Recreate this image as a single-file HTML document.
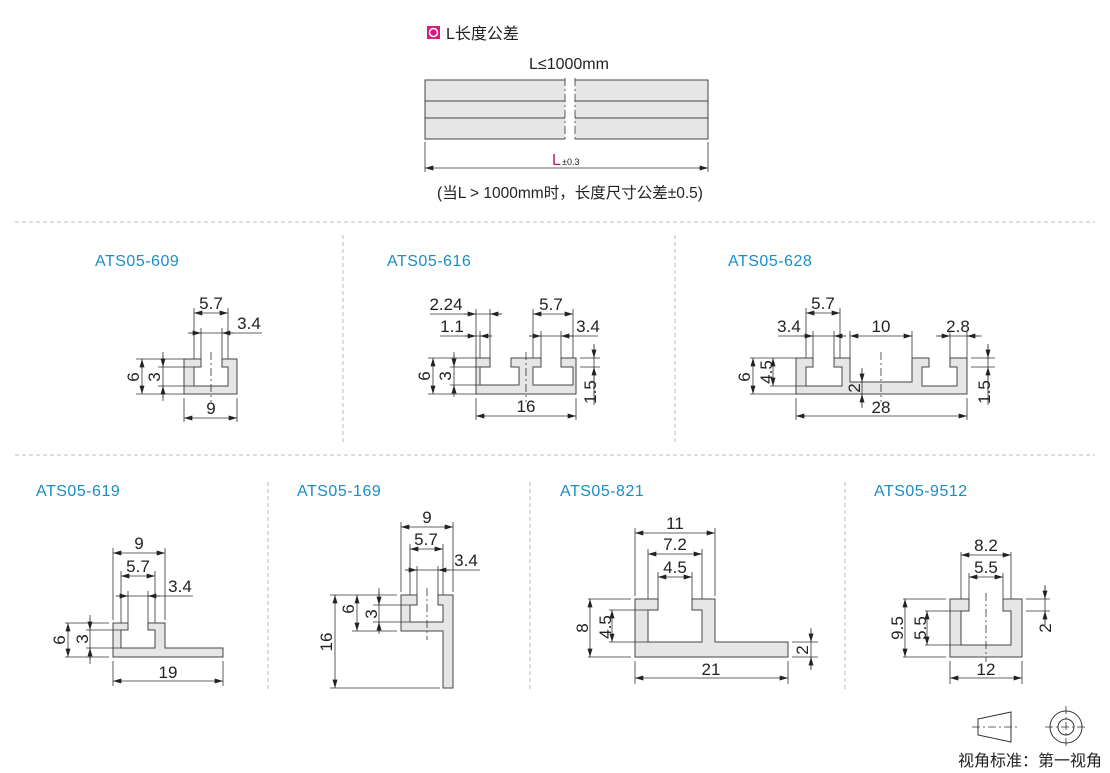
<!DOCTYPE html>
<html><head><meta charset="utf-8"><style>
html,body{margin:0;padding:0;background:#fff}
svg{display:block}
text{font-family:"Liberation Sans","Noto Sans CJK SC",sans-serif;fill:#222}
.t{font-size:16px;fill:#1a8cc6;letter-spacing:0.5px}
.d{font-size:17px}
.p{fill:#e6e6e6;stroke:#444;stroke-width:1}
.e{stroke:#333;stroke-width:0.8;fill:none}
.c{stroke:#333;stroke-width:0.8;stroke-dasharray:8,3,2,3;fill:none}
.s{stroke:#bbb;stroke-width:1;stroke-dasharray:4,3;fill:none}
</style></head><body>
<svg width="1110" height="773" viewBox="0 0 1110 773" xmlns="http://www.w3.org/2000/svg">
<defs><marker id="a" viewBox="0 0 10 6" refX="10" refY="3" markerWidth="9" markerHeight="5" orient="auto-start-reverse" markerUnits="userSpaceOnUse"><path d="M0,0 L10,3 L0,6z" fill="#222"/></marker></defs>

<!-- top section -->
<rect x="427" y="26" width="13" height="13" fill="#d81b7f"/>
<circle cx="433.5" cy="32.5" r="4" fill="none" stroke="#fff" stroke-width="1.5"/>
<text x="446" y="39" style="font-size:16px">L长度公差</text>
<text x="569" y="69" text-anchor="middle" style="font-size:16px">L≤1000mm</text>
<rect x="425" y="80" width="283" height="59" fill="#e6e6e6" stroke="#444"/>
<line x1="425" y1="101" x2="708" y2="101" stroke="#444"/>
<line x1="425" y1="118" x2="708" y2="118" stroke="#444"/>
<rect x="565" y="78" width="10" height="63" fill="#fff"/>
<line x1="565" y1="78" x2="565" y2="141" class="c"/>
<line x1="575" y1="78" x2="575" y2="141" class="c"/>
<line x1="425" y1="142" x2="425" y2="172" class="e"/>
<line x1="708" y1="142" x2="708" y2="172" class="e"/>
<line x1="425" y1="168" x2="708" y2="168" class="e" marker-start="url(#a)" marker-end="url(#a)"/>
<text x="552" y="165" style="font-size:16px;fill:#b0207a">L</text><text x="562" y="165" style="font-size:9px">±0.3</text>
<text x="570" y="198" text-anchor="middle" style="font-size:15.5px">(当L &gt; 1000mm时，长度尺寸公差±0.5)</text>

<!-- separators -->
<line x1="15" y1="222" x2="1095" y2="222" class="s"/>
<line x1="15" y1="455" x2="1095" y2="455" class="s"/>
<line x1="343" y1="235" x2="343" y2="445" class="s"/>
<line x1="675" y1="235" x2="675" y2="445" class="s"/>
<line x1="268" y1="482" x2="268" y2="690" class="s"/>
<line x1="530" y1="482" x2="530" y2="690" class="s"/>
<line x1="845" y1="482" x2="845" y2="690" class="s"/>

<!-- titles -->
<text x="95" y="266" class="t">ATS05-609</text>
<text x="387" y="266" class="t">ATS05-616</text>
<text x="728" y="266" class="t">ATS05-628</text>
<text x="36" y="496" class="t">ATS05-619</text>
<text x="297" y="496" class="t">ATS05-169</text>
<text x="560" y="496" class="t">ATS05-821</text>
<text x="874" y="496" class="t">ATS05-9512</text>

<!-- 609 -->
<path class="p" d="M184,359 H201 V367 H194 V386 H228 V367 H222 V359 H237 V394 H184 Z"/>
<line x1="211" y1="352" x2="211" y2="402" class="c"/>
<path class="e" d="M194,308V359 M228,308V359 M201,328V359 M222,328V359 M184,398V422 M237,398V422 M136,359H184 M136,394H184 M158,367H194 M158,386H194"/>
<line x1="194" y1="313" x2="228" y2="313" class="e" marker-start="url(#a)" marker-end="url(#a)"/>
<text x="211" y="309" text-anchor="middle" class="d">5.7</text>
<line x1="188" y1="333" x2="262" y2="333" class="e"/>
<line x1="189" y1="333" x2="201" y2="333" class="e" marker-end="url(#a)"/>
<line x1="234" y1="333" x2="222" y2="333" class="e" marker-end="url(#a)"/>
<text x="249" y="329" text-anchor="middle" class="d">3.4</text>
<line x1="184" y1="418" x2="237" y2="418" class="e" marker-start="url(#a)" marker-end="url(#a)"/>
<text x="211" y="414" text-anchor="middle" class="d">9</text>
<line x1="142" y1="359" x2="142" y2="394" class="e" marker-start="url(#a)" marker-end="url(#a)"/>
<text transform="translate(139,377) rotate(-90)" text-anchor="middle" class="d">6</text>
<line x1="163" y1="352" x2="163" y2="401" class="e"/>
<line x1="163" y1="355" x2="163" y2="367" class="e" marker-end="url(#a)"/>
<line x1="163" y1="398" x2="163" y2="386" class="e" marker-end="url(#a)"/>
<text transform="translate(160,377) rotate(-90)" text-anchor="middle" class="d">3</text>

<!-- 616 -->
<path class="p" d="M476,358 H490 V367 H480 V385 H519 V367 H511 V358 H541 V367 H533 V385 H573 V367 H561 V358 H576 V394 H476 Z"/>
<line x1="526" y1="352" x2="526" y2="402" class="c"/>
<path class="e" d="M476,309V358 M490,309V358 M480,331V358 M533,309V358 M573,309V358 M541,331V358 M561,331V358 M476,398V420 M576,398V420 M428,358H476 M428,394H476 M450,367H480 M450,385H480 M580,358H600 M580,367H600"/>
<line x1="430" y1="314" x2="502" y2="314" class="e"/>
<line x1="464" y1="314" x2="476" y2="314" class="e" marker-end="url(#a)"/>
<line x1="502" y1="314" x2="490" y2="314" class="e" marker-end="url(#a)"/>
<text x="446" y="310" text-anchor="middle" class="d">2.24</text>
<line x1="440" y1="336" x2="492" y2="336" class="e"/>
<line x1="464" y1="336" x2="476" y2="336" class="e" marker-end="url(#a)"/>
<line x1="492" y1="336" x2="480" y2="336" class="e" marker-end="url(#a)"/>
<text x="452" y="332" text-anchor="middle" class="d">1.1</text>
<line x1="533" y1="314" x2="573" y2="314" class="e" marker-start="url(#a)" marker-end="url(#a)"/>
<text x="551" y="310" text-anchor="middle" class="d">5.7</text>
<line x1="529" y1="336" x2="598" y2="336" class="e"/>
<line x1="529" y1="336" x2="541" y2="336" class="e" marker-end="url(#a)"/>
<line x1="573" y1="336" x2="561" y2="336" class="e" marker-end="url(#a)"/>
<text x="588" y="332" text-anchor="middle" class="d">3.4</text>
<line x1="476" y1="416" x2="576" y2="416" class="e" marker-start="url(#a)" marker-end="url(#a)"/>
<text x="526" y="412" text-anchor="middle" class="d">16</text>
<line x1="433" y1="358" x2="433" y2="394" class="e" marker-start="url(#a)" marker-end="url(#a)"/>
<text transform="translate(430,376) rotate(-90)" text-anchor="middle" class="d">6</text>
<line x1="454" y1="352" x2="454" y2="394" class="e"/>
<line x1="454" y1="355" x2="454" y2="367" class="e" marker-end="url(#a)"/>
<line x1="454" y1="397" x2="454" y2="385" class="e" marker-end="url(#a)"/>
<text transform="translate(451,376) rotate(-90)" text-anchor="middle" class="d">3</text>
<line x1="594" y1="344" x2="594" y2="405" class="e"/>
<line x1="594" y1="345" x2="594" y2="358" class="e" marker-end="url(#a)"/>
<line x1="594" y1="380" x2="594" y2="367" class="e" marker-end="url(#a)"/>
<text transform="translate(596,392) rotate(-90)" text-anchor="middle" class="d">1.5</text>

<!-- 628 -->
<path class="p" d="M796,358 H813 V367 H806 V386 H842 V367 H834 V358 H850 V382 H912 V358 H929 V367 H922 V386 H957 V367 H950 V358 H967 V394 H796 Z"/>
<line x1="881" y1="352" x2="881" y2="402" class="c"/>
<path class="e" d="M806,308V358 M840,308V358 M813,331V358 M834,331V358 M850,331V358 M912,331V358 M950,331V358 M967,331V358 M796,398V420 M967,398V420 M750,358H796 M750,394H796 M770,386H806 M971,358H995 M971,367H995"/>
<line x1="806" y1="313" x2="840" y2="313" class="e" marker-start="url(#a)" marker-end="url(#a)"/>
<text x="823" y="309" text-anchor="middle" class="d">5.7</text>
<line x1="778" y1="336" x2="846" y2="336" class="e"/>
<line x1="801" y1="336" x2="813" y2="336" class="e" marker-end="url(#a)"/>
<line x1="846" y1="336" x2="834" y2="336" class="e" marker-end="url(#a)"/>
<text x="789" y="332" text-anchor="middle" class="d">3.4</text>
<line x1="850" y1="336" x2="912" y2="336" class="e" marker-start="url(#a)" marker-end="url(#a)"/>
<text x="881" y="332" text-anchor="middle" class="d">10</text>
<line x1="936" y1="336" x2="982" y2="336" class="e"/>
<line x1="938" y1="336" x2="950" y2="336" class="e" marker-end="url(#a)"/>
<line x1="979" y1="336" x2="967" y2="336" class="e" marker-end="url(#a)"/>
<text x="958" y="332" text-anchor="middle" class="d">2.8</text>
<line x1="796" y1="416" x2="967" y2="416" class="e" marker-start="url(#a)" marker-end="url(#a)"/>
<text x="881" y="413" text-anchor="middle" class="d">28</text>
<line x1="753" y1="358" x2="753" y2="394" class="e" marker-start="url(#a)" marker-end="url(#a)"/>
<text transform="translate(750,377) rotate(-90)" text-anchor="middle" class="d">6</text>
<line x1="773" y1="358" x2="773" y2="386" class="e" marker-start="url(#a)" marker-end="url(#a)"/>
<text transform="translate(772,372) rotate(-90)" text-anchor="middle" class="d">4.5</text>
<line x1="862" y1="368" x2="862" y2="408" class="e"/>
<line x1="862" y1="370" x2="862" y2="382" class="e" marker-end="url(#a)"/>
<line x1="862" y1="406" x2="862" y2="394" class="e" marker-end="url(#a)"/>
<text transform="translate(860,388) rotate(-90)" text-anchor="middle" class="d">2</text>
<line x1="988" y1="344" x2="988" y2="405" class="e"/>
<line x1="988" y1="345" x2="988" y2="358" class="e" marker-end="url(#a)"/>
<line x1="988" y1="380" x2="988" y2="367" class="e" marker-end="url(#a)"/>
<text transform="translate(990,392) rotate(-90)" text-anchor="middle" class="d">1.5</text>

<!-- 619 -->
<path class="p" d="M113,623 H128 V630 H121 V648 H155 V630 H148 V623 H165 V648 H223 V657 H113 Z"/>
<path class="e" d="M113,548V620 M165,548V620 M121,571V623 M155,571V623 M128,591V623 M148,591V623 M113,661V686 M223,661V686 M65,623H109 M65,657H109 M86,630H121 M86,648H121"/>
<line x1="113" y1="553" x2="165" y2="553" class="e" marker-start="url(#a)" marker-end="url(#a)"/>
<text x="139" y="549" text-anchor="middle" class="d">9</text>
<line x1="121" y1="576" x2="155" y2="576" class="e" marker-start="url(#a)" marker-end="url(#a)"/>
<text x="138" y="572" text-anchor="middle" class="d">5.7</text>
<line x1="116" y1="596" x2="193" y2="596" class="e"/>
<line x1="116" y1="596" x2="128" y2="596" class="e" marker-end="url(#a)"/>
<line x1="160" y1="596" x2="148" y2="596" class="e" marker-end="url(#a)"/>
<text x="180" y="592" text-anchor="middle" class="d">3.4</text>
<line x1="113" y1="681" x2="223" y2="681" class="e" marker-start="url(#a)" marker-end="url(#a)"/>
<text x="168" y="678" text-anchor="middle" class="d">19</text>
<line x1="68" y1="623" x2="68" y2="657" class="e" marker-start="url(#a)" marker-end="url(#a)"/>
<text transform="translate(65,640) rotate(-90)" text-anchor="middle" class="d">6</text>
<line x1="90" y1="615" x2="90" y2="664" class="e"/>
<line x1="90" y1="618" x2="90" y2="630" class="e" marker-end="url(#a)"/>
<line x1="90" y1="660" x2="90" y2="648" class="e" marker-end="url(#a)"/>
<text transform="translate(88,639) rotate(-90)" text-anchor="middle" class="d">3</text>

<!-- 169 -->
<path class="p" d="M401,595 H417 V605 H410 V622 H443 V605 H438 V595 H453 V688 H443 V631 H401 Z"/>
<line x1="427" y1="588" x2="427" y2="640" class="c"/>
<path class="e" d="M401,522V592 M453,522V592 M410,544V595 M443,544V595 M417,566V595 M438,566V595 M330,595H397 M352,631H397 M373,605H410 M373,622H410 M330,688H440"/>
<line x1="401" y1="527" x2="453" y2="527" class="e" marker-start="url(#a)" marker-end="url(#a)"/>
<text x="427" y="523" text-anchor="middle" class="d">9</text>
<line x1="410" y1="549" x2="443" y2="549" class="e" marker-start="url(#a)" marker-end="url(#a)"/>
<text x="426" y="545" text-anchor="middle" class="d">5.7</text>
<line x1="405" y1="570" x2="480" y2="570" class="e"/>
<line x1="405" y1="570" x2="417" y2="570" class="e" marker-end="url(#a)"/>
<line x1="450" y1="570" x2="438" y2="570" class="e" marker-end="url(#a)"/>
<text x="466" y="566" text-anchor="middle" class="d">3.4</text>
<line x1="335" y1="595" x2="335" y2="688" class="e" marker-start="url(#a)" marker-end="url(#a)"/>
<text transform="translate(332,642) rotate(-90)" text-anchor="middle" class="d">16</text>
<line x1="357" y1="595" x2="357" y2="631" class="e" marker-start="url(#a)" marker-end="url(#a)"/>
<text transform="translate(354,609) rotate(-90)" text-anchor="middle" class="d">6</text>
<line x1="379" y1="588" x2="379" y2="631" class="e"/>
<line x1="379" y1="592" x2="379" y2="605" class="e" marker-end="url(#a)"/>
<line x1="379" y1="634" x2="379" y2="622" class="e" marker-end="url(#a)"/>
<text transform="translate(377,614) rotate(-90)" text-anchor="middle" class="d">3</text>

<!-- 821 -->
<path class="p" d="M635,599 H658 V610 H648 V642 H702 V610 H692 V599 H715 V642 H788 V657 H635 Z"/>
<path class="e" d="M635,528V596 M715,528V596 M648,549V599 M702,549V599 M658,572V599 M692,572V599 M635,661V684 M788,661V684 M588,599H631 M588,657H631 M609,610H648 M609,642H648 M792,642H818 M792,657H818"/>
<line x1="635" y1="533" x2="715" y2="533" class="e" marker-start="url(#a)" marker-end="url(#a)"/>
<text x="675" y="529" text-anchor="middle" class="d">11</text>
<line x1="648" y1="554" x2="702" y2="554" class="e" marker-start="url(#a)" marker-end="url(#a)"/>
<text x="675" y="550" text-anchor="middle" class="d">7.2</text>
<line x1="658" y1="577" x2="692" y2="577" class="e" marker-start="url(#a)" marker-end="url(#a)"/>
<text x="675" y="573" text-anchor="middle" class="d">4.5</text>
<line x1="635" y1="678" x2="788" y2="678" class="e" marker-start="url(#a)" marker-end="url(#a)"/>
<text x="711" y="675" text-anchor="middle" class="d">21</text>
<line x1="590" y1="599" x2="590" y2="657" class="e" marker-start="url(#a)" marker-end="url(#a)"/>
<text transform="translate(588,628) rotate(-90)" text-anchor="middle" class="d">8</text>
<line x1="612" y1="610" x2="612" y2="642" class="e" marker-start="url(#a)" marker-end="url(#a)"/>
<text transform="translate(611,627) rotate(-90)" text-anchor="middle" class="d">4.5</text>
<line x1="811" y1="628" x2="811" y2="670" class="e"/>
<line x1="811" y1="630" x2="811" y2="642" class="e" marker-end="url(#a)"/>
<line x1="811" y1="669" x2="811" y2="657" class="e" marker-end="url(#a)"/>
<text transform="translate(808,650) rotate(-90)" text-anchor="middle" class="d">2</text>

<!-- 9512 -->
<path class="p" d="M950,599 H969 V611 H961 V645 H1011 V611 H1003 V599 H1022 V657 H950 Z"/>
<line x1="986" y1="593" x2="986" y2="662" class="c"/>
<path class="e" d="M961,552V599 M1011,552V599 M969,573V599 M1003,573V599 M950,661V684 M1022,661V684 M903,599H946 M903,657H946 M925,611H961 M925,645H961 M1026,599H1050 M1026,611H1050"/>
<line x1="961" y1="555" x2="1011" y2="555" class="e" marker-start="url(#a)" marker-end="url(#a)"/>
<text x="986" y="551" text-anchor="middle" class="d">8.2</text>
<line x1="969" y1="577" x2="1003" y2="577" class="e" marker-start="url(#a)" marker-end="url(#a)"/>
<text x="986" y="573" text-anchor="middle" class="d">5.5</text>
<line x1="950" y1="678" x2="1022" y2="678" class="e" marker-start="url(#a)" marker-end="url(#a)"/>
<text x="986" y="675" text-anchor="middle" class="d">12</text>
<line x1="905" y1="599" x2="905" y2="657" class="e" marker-start="url(#a)" marker-end="url(#a)"/>
<text transform="translate(903,628) rotate(-90)" text-anchor="middle" class="d">9.5</text>
<line x1="927" y1="611" x2="927" y2="645" class="e" marker-start="url(#a)" marker-end="url(#a)"/>
<text transform="translate(926,628) rotate(-90)" text-anchor="middle" class="d">5.5</text>
<line x1="1045" y1="585" x2="1045" y2="625" class="e"/>
<line x1="1045" y1="587" x2="1045" y2="599" class="e" marker-end="url(#a)"/>
<line x1="1045" y1="623" x2="1045" y2="611" class="e" marker-end="url(#a)"/>
<text transform="translate(1051,628) rotate(-90)" text-anchor="middle" class="d">2</text>

<!-- view icon -->
<path d="M978,719 L1011,712 L1011,742 L978,735 Z" fill="none" stroke="#333" stroke-width="1"/>
<line x1="972" y1="727" x2="1020" y2="727" class="c"/>
<circle cx="1066" cy="727" r="16" fill="none" stroke="#333"/>
<circle cx="1066" cy="727" r="8" fill="none" stroke="#333"/>
<line x1="1045" y1="727" x2="1087" y2="727" class="c"/>
<line x1="1066" y1="706" x2="1066" y2="748" class="c"/>
<text x="958" y="766" style="font-size:16px">视角标准：第一视角</text>
</svg>
</body></html>
